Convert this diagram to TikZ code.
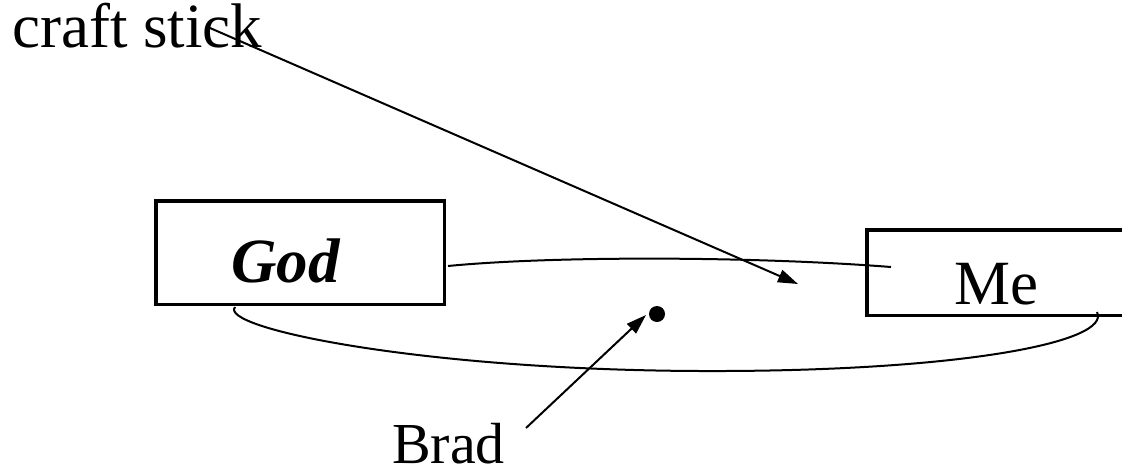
\documentclass[tikz,border=0pt]{standalone}
\usepackage{fontspec}
\setmainfont{Liberation Serif}
\usetikzlibrary{arrows.meta}
\begin{document}
\begin{tikzpicture}[x=1pt,y=-1pt,
  boxnode/.style={draw,line width=3.5pt,rectangle,inner sep=0pt},
  txt/.style={inner sep=0pt,anchor=base west,font=\fontsize{63}{70}\selectfont},
  conn/.style={line width=2pt},
  tip/.style={-{Triangle[length=20pt,width=13pt]}}]
\useasboundingbox (0,0) rectangle (1122,469);
\node[boxnode,minimum width=288.5pt,minimum height=103.5pt] (God) at (300,252.5) {};
\node[boxnode,minimum width=258.5pt,minimum height=85.5pt] (Me) at (996,272.5) {};
\node[txt] (GodText) at (231,282) {\textbf{\textit{God}}};
\node[txt] (MeText) at (954,304) {Me};
\node[txt] (craft) at (12,47) {craft stick};
\node[txt,font=\fontsize{58}{64}\selectfont] (Brad) at (392,463) {Brad};
\node[circle,fill,inner sep=0pt,minimum size=16pt] (dot) at (657,314) {};
\coordinate (stickstart) at (210,28);
\coordinate (sticktip) at (798,284);
\coordinate (godR) at (448,266);
\coordinate (meIn) at (891,267);
\coordinate (godB) at (235,307);
\coordinate (meB) at (1097,312);
\coordinate (bradstart) at (526,428);
\coordinate (dottip) at (646,315);
\draw[conn,tip] (stickstart) -- (sticktip);
\draw[conn] (godR) .. controls (550,256) and (750,256) .. (meIn);
\draw[conn] (godB) .. controls (218,328) and (420,370) .. (700,371)
  .. controls (960,372) and (1112,342) .. (meB);
\draw[conn,tip] (bradstart) -- (dottip);
\end{tikzpicture}
\end{document}
